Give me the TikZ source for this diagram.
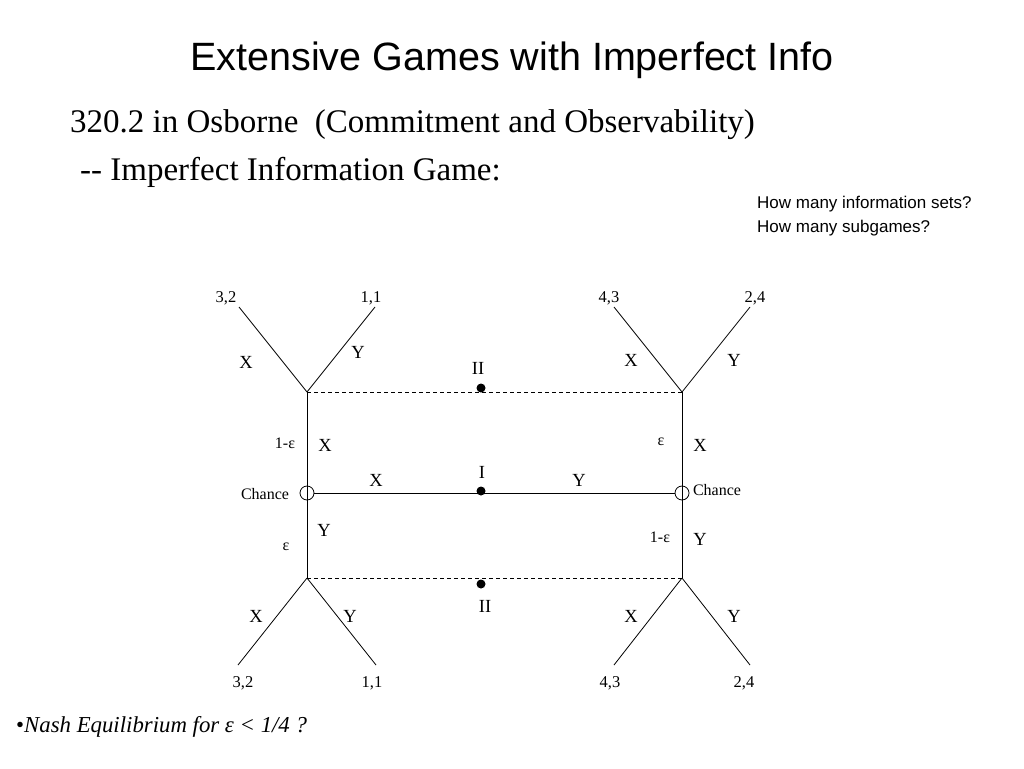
\documentclass[tikz,border=0pt]{standalone}
\usepackage{fontspec}
\setmainfont{Liberation Serif}
\setsansfont{Liberation Sans}
\begin{document}
\begin{tikzpicture}[x=1pt,y=-1pt,
  edge/.style={draw=black, line width=0.8pt},
  infoset/.style={draw=black, line width=0.8pt, dash pattern=on 4pt off 3pt},
  move/.style={font=\fontsize{18.5}{20}\selectfont, inner sep=0pt},
  pay/.style={font=\fontsize{16.5}{18}\selectfont, inner sep=0pt},
  prob/.style={font=\fontsize{16}{18}\selectfont, inner sep=0pt},
  dot/.style={circle, fill=black, minimum size=9pt, inner sep=0pt},
  chance/.style={circle, draw=black, line width=0.8pt, minimum size=14pt, inner sep=0pt},
  nd/.style={inner sep=0pt, minimum size=0pt}
]
\useasboundingbox (0,0) rectangle (1024,768);
% titles
\node[font=\sffamily\fontsize{39.5}{44}\selectfont, inner sep=0pt] (title) at (512,60) {Extensive Games with Imperfect Info};
\node[anchor=west, font=\fontsize{33}{36}\selectfont, inner sep=0pt] (sub1) at (70,125) {320.2 in Osborne\ \ (Commitment and Observability)};
\node[anchor=west, font=\fontsize{33}{36}\selectfont, inner sep=0pt] (sub2) at (80,172) {-{}- Imperfect Information Game:};
\node[anchor=west, font=\sffamily\fontsize{17}{19}\selectfont, inner sep=0pt] (q1) at (757,204) {How many information sets?};
\node[anchor=west, font=\sffamily\fontsize{17}{19}\selectfont, inner sep=0pt] (q2) at (757,228) {How many subgames?};
% tree nodes
\coordinate (UL) at (307,392);
\coordinate (UR) at (682,392);
\coordinate (LL) at (307,578);
\coordinate (LR) at (682,578);
\node[chance] (CL) at (307,493) {};
\node[chance] (CR) at (682,493) {};
\coordinate (ULa) at (239,307);
\coordinate (ULb) at (375,307);
\coordinate (URa) at (614,307);
\coordinate (URb) at (750,307);
\coordinate (LLa) at (238,665);
\coordinate (LLb) at (376,665);
\coordinate (LRa) at (614,665);
\coordinate (LRb) at (750,665);
% edges
\draw[edge] (UL) -- (ULa);
\draw[edge] (UL) -- (ULb);
\draw[edge] (UR) -- (URa);
\draw[edge] (UR) -- (URb);
\draw[edge] (LL) -- (LLa);
\draw[edge] (LL) -- (LLb);
\draw[edge] (LR) -- (LRa);
\draw[edge] (LR) -- (LRb);
\draw[edge] (UL) -- (LL);
\draw[edge] (UR) -- (LR);
\draw[edge] (CL.east) -- (CR.west);
\draw[infoset] (UL) -- (UR);
\draw[infoset] (LL) -- (LR);
% player dots
\node[dot] (dII1) at (481,388) {};
\node[dot] (dI) at (481,491) {};
\node[dot] (dII2) at (481,584) {};
\node[move] (lII1) at (478,368) {II};
\node[move] (lI) at (482,472) {I};
\node[move] (lII2) at (485,606) {II};
% move labels
\node[move] (m1) at (246,362) {X};
\node[move] (m2) at (358,352) {Y};
\node[move] (m3) at (631,360) {X};
\node[move] (m4) at (734,360) {Y};
\node[move] (m5) at (325,445) {X};
\node[move] (m6) at (700,445) {X};
\node[move] (m7) at (376,480) {X};
\node[move] (m8) at (579,480) {Y};
\node[move] (m9) at (324,530) {Y};
\node[move] (m10) at (700,539) {Y};
\node[move] (m11) at (256,616) {X};
\node[move] (m12) at (350,616) {Y};
\node[move] (m13) at (631,616) {X};
\node[move] (m14) at (734,616) {Y};
% probabilities
\node[prob] (p1) at (285,443) {1-ε};
\node[prob] (p2) at (661,442) {ε};
\node[prob] (p3) at (286,547) {ε};
\node[prob] (p4) at (660,537) {1-ε};
\node[prob] (chL) at (265,494) {Chance};
\node[prob] (chR) at (717,490) {Chance};
% payoffs
\node[pay] (a1) at (226,298) {3,2};
\node[pay] (a2) at (371,298) {1,1};
\node[pay] (a3) at (609,298) {4,3};
\node[pay] (a4) at (755,298) {2,4};
\node[pay] (b1) at (243,683) {3,2};
\node[pay] (b2) at (372,683) {1,1};
\node[pay] (b3) at (610,683) {4,3};
\node[pay] (b4) at (744,683) {2,4};
% footnote
\node[anchor=west, font=\itshape\fontsize{22.8}{24}\selectfont, inner sep=0pt] (nash) at (16,727) {\upshape•\itshape Nash Equilibrium for \textit{ε} < 1/4 ?};
\end{tikzpicture}
\end{document}
